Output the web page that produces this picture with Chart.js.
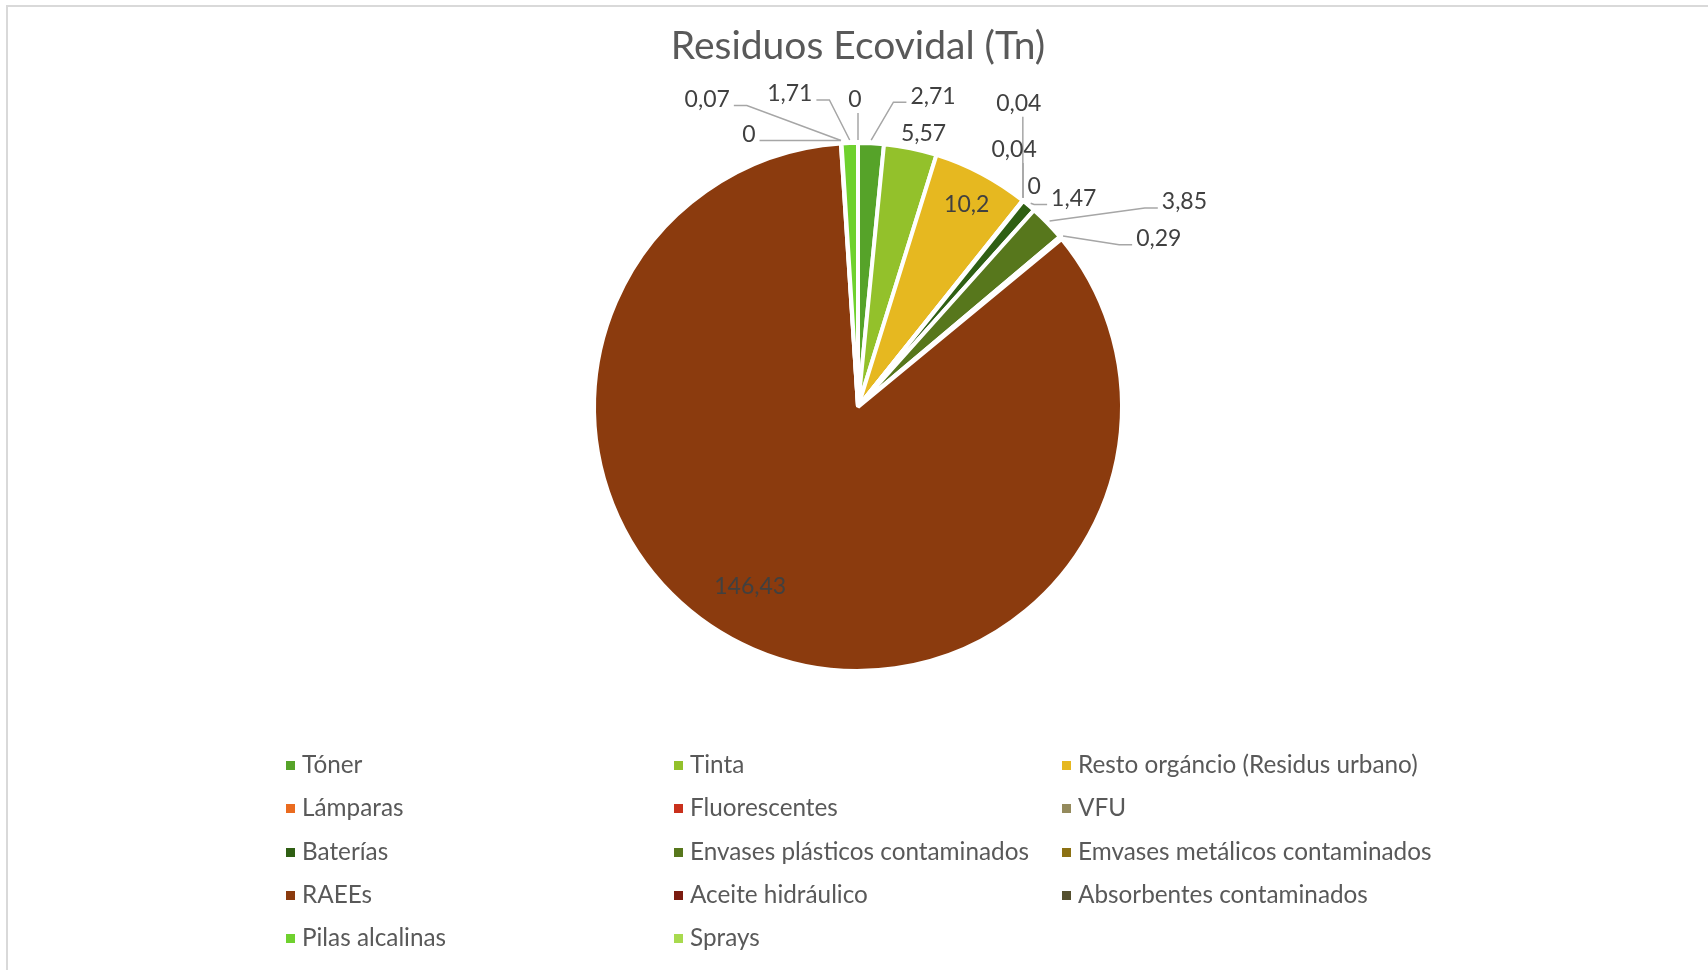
<!DOCTYPE html>
<html>
<head>
<meta charset="utf-8">
<script src="https://cdn.jsdelivr.net/npm/chart.js@4.4.0/dist/chart.umd.min.js"></script>
<style>
    html, body { margin: 0; padding: 0; background: #fff; overflow: hidden; }
    #wrap { position: relative; width: 1708px; height: 970px; }
    #frame {
        position: absolute; left: 6px; top: 5px; width: 1720px; height: 990px;
        border: 2px solid #d9d9d9; box-sizing: border-box;
    }
    #pieChart { position: absolute; left: 0; top: 0; }
    #legend { position: absolute; left: 0; top: 0; font-family: Lato, sans-serif; font-size: 24.3px; color: #595959; }
    .item { position: absolute; white-space: nowrap; line-height: 28px; }
    .item span.box { display: inline-block; width: 9px; height: 9px; margin-right: 7px; vertical-align: 3px; }
</style>
</head>
<body>
<div id="wrap">
    <div id="frame"></div>
    <canvas id="pieChart" width="1708" height="970"></canvas>
    <div id="legend"></div>
</div>
<script>
const categories = [
    "Tóner", "Tinta", "Resto orgáncio (Residus urbano)",
    "Lámparas", "Fluorescentes", "VFU",
    "Baterías", "Envases plásticos contaminados", "Emvases metálicos contaminados",
    "RAEEs", "Aceite hidráulico", "Absorbentes contaminados",
    "Pilas alcalinas", "Sprays"
];
const tonnes = [2.71, 5.57, 10.2, 0.04, 0.04, 0, 1.47, 3.85, 0.29, 146.43, 0, 0.07, 1.71, 0];

const sliceColors = [
    "#56a329", "#93c12b", "#e6b820",
    "#ea6b1f", "#c9301c", "#948a5c",
    "#2f5f13", "#57771c", "#8c7113",
    "#8b3b0e", "#7b1c10", "#55502f",
    "#6fd12e", "#a8da4e"
];

// where each value label sits, relative to the outer middle of its slice: [dx, dy, leader]
const labelPlace = [
    [62, -47, "h"], [13, -15, ""], [-15, 31, ""],
    [-4, -97, "v"], [-9, -51, "v"], [11, -14, ""],
    [45, -7, "h"], [137, -21, "h"], [98, 1, "h"],
    [-3, -63, ""], [-92, -9, "h"], [-134, -44, "h"],
    [-60, -49, "h"], [-3, -43, "v"]
];

// draws the value labels and their leader lines, Excel style
const valueLabels = {
    id: "valueLabels",
    afterDatasetsDraw(chart) {
        const ctx = chart.ctx;
        const meta = chart.getDatasetMeta(0);
        ctx.save();
        ctx.font = "23px Lato";
        ctx.textAlign = "center";
        ctx.textBaseline = "middle";
        meta.data.forEach((arc, i) => {
            const p = arc.getProps(["x", "y", "startAngle", "endAngle", "outerRadius"], true);
            const mid = (p.startAngle + p.endAngle) / 2;
            const px = p.x + p.outerRadius * Math.cos(mid);
            const py = p.y + p.outerRadius * Math.sin(mid);
            const [dx, dy, leader] = labelPlace[i];
            const lx = px + dx;
            const ly = py + dy;
            const text = String(tonnes[i]).replace(".", ",");
            const w = ctx.measureText(text).width;

            ctx.strokeStyle = "#a6a6a6";
            ctx.lineWidth = 1.5;
            if (leader === "h") {
                const side = dx > 0 ? -1 : 1;
                const sx = lx + side * (w / 2 + 4);
                const sy = ly + 6;
                const ex = p.x + (p.outerRadius + 3) * Math.cos(mid);
                const ey = p.y + (p.outerRadius + 3) * Math.sin(mid);
                ctx.beginPath();
                ctx.moveTo(sx, sy);
                ctx.lineTo(sx + side * 13, sy);
                ctx.lineTo(ex, ey);
                ctx.stroke();
            } else if (leader === "v") {
                ctx.beginPath();
                ctx.moveTo(px, ly + 13);
                ctx.lineTo(px, py - 3);
                ctx.stroke();
            }
            ctx.fillStyle = "#404040";
            ctx.fillText(text, lx, ly);
        });
        ctx.restore();
    }
};

const pieChart = new Chart(document.getElementById("pieChart").getContext("2d"), {
    type: "pie",
    data: {
        labels: categories,
        datasets: [
            {
                data: tonnes,
                backgroundColor: sliceColors,
                borderColor: "#ffffff",
                borderWidth: 4,
                hoverOffset: 0,
                radius: 264,
            },
        ],
    },
    options: {
        responsive: false,
        animation: false,
        devicePixelRatio: 1,
        layout: {
            padding: { left: 8, right: 0, top: 0, bottom: 256 },
        },
        plugins: {
            legend: { display: false },
            tooltip: { enabled: false },
            title: {
                display: true,
                text: "Residuos Ecovidal (Tn)",
                color: "#595959",
                font: { family: "Lato", size: 39, weight: "normal" },
                padding: { top: 23, bottom: 30 },
            },
        },
    },
    plugins: [valueLabels],
});

// legend in three fixed columns, like the spreadsheet one
function buildLegend() {
    const items = Chart.overrides.pie.plugins.legend.labels.generateLabels(pieChart);
    const box = document.getElementById("legend");
    items.forEach((item, i) => {
        const col = i % 3;
        const row = Math.floor(i / 3);
        const div = document.createElement("div");
        div.className = "item";
        div.style.left = (286 + col * 388) + "px";
        div.style.top = (750 + row * 43.3) + "px";
        div.innerHTML = '<span class="box" style="background:' + item.fillStyle + '"></span>' + item.text;
        box.appendChild(div);
    });
}

buildLegend();
</script>
</body>
</html>
